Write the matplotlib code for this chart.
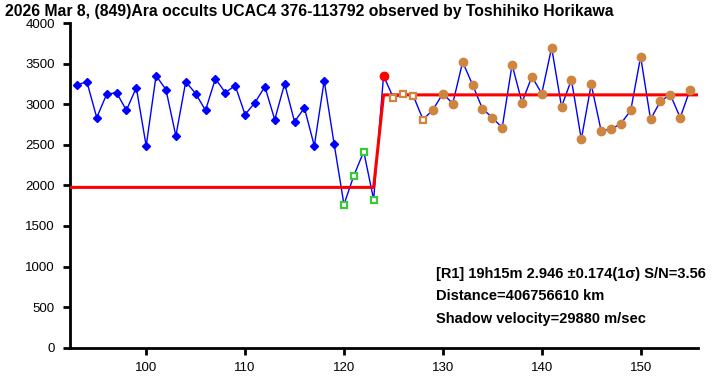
import matplotlib

matplotlib.use("Agg")
import matplotlib.pyplot as plt

# frame index and brightness readings
frames = list(range(93, 156))
flux = [
    3237, 3278, 2835, 3122, 3143, 2925, 3204, 2486, 3352, 3180,
    2609, 3278, 3131, 2925, 3315, 3143, 3229, 2872, 3020, 3216,
    2810, 3253, 2785, 2954, 2486, 3290, 2515,
    1764, 2121, 2416, 1825,
    3352,
    3077, 3131, 3106, 2810,
    2933, 3131, 3008, 3520, 3241, 2945, 2835, 2711, 3487, 3020,
    3340, 3131, 3697, 2970, 3302, 2567, 3245, 2675, 2691, 2760,
    2925, 3586, 2814, 3036, 3118, 2835, 3180,
]

# groups of frames by marker style
before = (93, 119)      # blue diamonds
dip = (120, 123)        # green open squares
reappear = 124          # red dot
open_after = (125, 128) # orange open squares
after = (129, 155)      # orange dots

# model light curve (step)
model_x = [92.3, 123.0, 124.0, 155.8]
model_y = [1975, 1975, 3115, 3115]

title = "2026 Mar 8, (849)Ara occults UCAC4 376-113792 observed by Toshihiko Horikawa"
info_lines = [
    "[R1] 19h15m 2.946 \u00b10.174(1\u03c3) S/N=3.56",
    "Distance=406756610 km",
    "Shadow velocity=29880 m/sec",
]

plt.rcParams["font.family"] = ["Liberation Sans", "DejaVu Sans"]

fig = plt.figure(figsize=(7.28, 3.78), dpi=100)
ax = fig.add_axes([0.0962, 0.0802, 0.8626, 0.8588])


def pick(lo, hi):
    xs = [f for f in frames if lo <= f <= hi]
    ys = [flux[frames.index(f)] for f in xs]
    return xs, ys


ax.plot(frames, flux, color="#0000ff", lw=1.0, zorder=2)
ax.plot(model_x, model_y, color="#ff0000", lw=2.2, zorder=3)

xs, ys = pick(*before)
ax.plot(xs, ys, ls="none", marker="D", ms=4.5, color="#0000ff", zorder=4)
xs, ys = pick(*dip)
ax.plot(xs, ys, ls="none", marker="s", ms=5, mfc="white", mec="#3cc83c", mew=1.6, zorder=4)
xs, ys = pick(reappear, reappear)
ax.plot(xs, ys, ls="none", marker="o", ms=6, color="#ff0000", zorder=4)
xs, ys = pick(*open_after)
ax.plot(xs, ys, ls="none", marker="s", ms=5, mfc="white", mec="#cd853f", mew=1.6, zorder=4)
xs, ys = pick(*after)
ax.plot(xs, ys, ls="none", marker="o", ms=6, color="#cd853f", zorder=4)

ax.set_xlim(92.3, 155.8)
ax.set_ylim(0, 4000)
ax.set_xticks(range(100, 151, 10))
ax.set_yticks(range(0, 4001, 500))

for side in ("top", "right"):
    ax.spines[side].set_visible(False)
for side in ("left", "bottom"):
    ax.spines[side].set_linewidth(2)
ax.tick_params(direction="out", length=5, width=2, labelsize=9.5)
ax.tick_params(axis="y", pad=6)
ax.tick_params(axis="x", pad=5)

fig.text(0.007, 0.99, title, ha="left", va="top", fontsize=11.3, fontweight="bold")

for i, line in enumerate(info_lines):
    ax.text(0.582, 0.227 - i * 0.069, line, transform=ax.transAxes,
            ha="left", va="center", fontsize=10.5, fontweight="bold")

fig.savefig("out.png", dpi=100)
